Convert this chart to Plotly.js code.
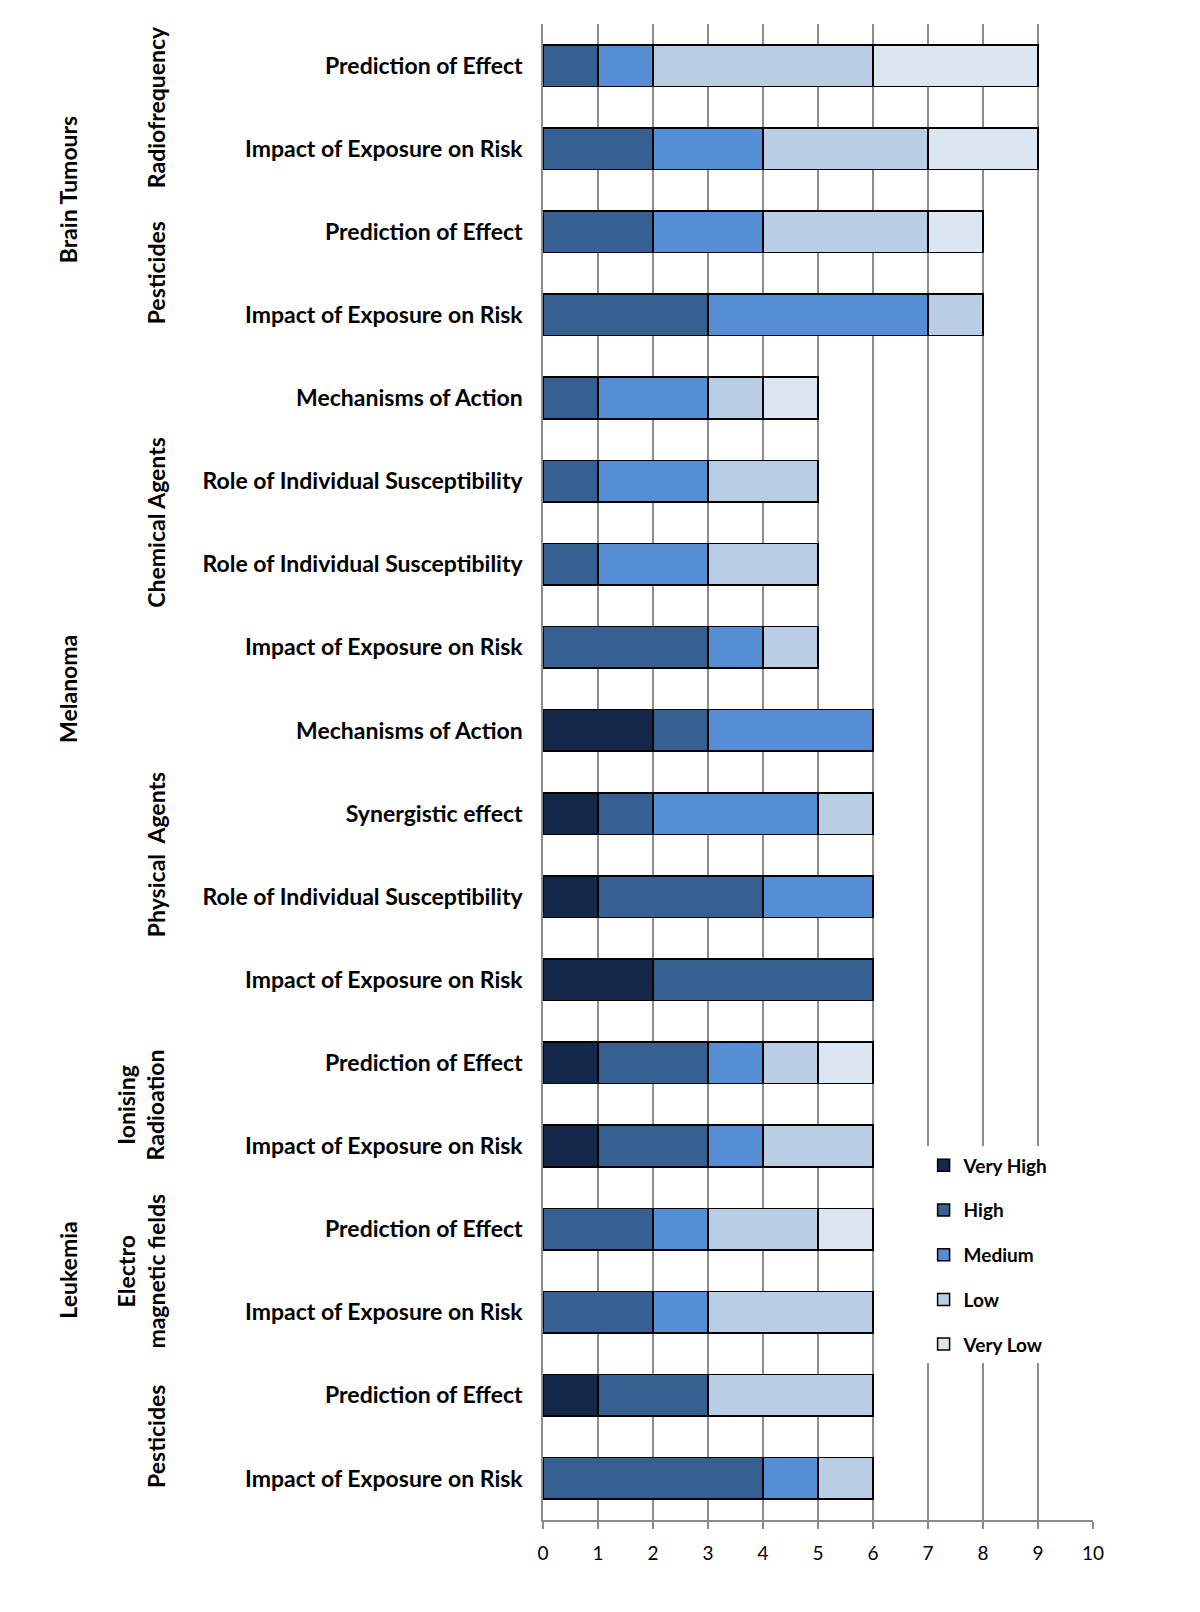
<!DOCTYPE html>
<html>
<head>
<meta charset="utf-8">
<script src="https://cdn.plot.ly/plotly-3.0.1.min.js"></script>
<style>
  body { margin: 0; background: #fff; }
  #chart { width: 1200px; height: 1612px; }
</style>
</head>
<body>
<div id="chart"></div>
<script>
// rows from top to bottom
var rowLabels = [
    "Prediction of Effect", "Impact of Exposure on Risk",
    "Prediction of Effect", "Impact of Exposure on Risk",
    "Mechanisms of Action", "Role of Individual Susceptibility",
    "Role of Individual Susceptibility", "Impact of Exposure on Risk",
    "Mechanisms of Action", "Synergistic effect",
    "Role of Individual Susceptibility", "Impact of Exposure on Risk",
    "Prediction of Effect", "Impact of Exposure on Risk",
    "Prediction of Effect", "Impact of Exposure on Risk",
    "Prediction of Effect", "Impact of Exposure on Risk"
];

var levelNames = ["Very High", "High", "Medium", "Low", "Very Low"];

var veryHigh = [0, 0, 0, 0, 0, 0, 0, 0, 2, 1, 1, 2, 1, 1, 0, 0, 1, 0];
var high     = [1, 2, 2, 3, 1, 1, 1, 3, 1, 1, 3, 4, 2, 2, 2, 2, 2, 4];
var medium   = [1, 2, 2, 4, 2, 2, 2, 1, 3, 3, 2, 0, 1, 1, 1, 1, 0, 1];
var low      = [4, 3, 3, 1, 1, 2, 2, 1, 0, 1, 0, 0, 1, 2, 2, 3, 3, 1];
var veryLow  = [3, 2, 1, 0, 1, 0, 0, 0, 0, 0, 0, 0, 1, 0, 1, 0, 0, 0];

var xTicks = [0, 1, 2, 3, 4, 5, 6, 7, 8, 9, 10];

// group labels: text and the row position they are centred on
var diseases = ["Brain Tumours", "Melanoma", "Leukemia"];
var diseasePos = [1.5, 7.5, 14.5];
var agents = ["Radiofrequency", "Pesticides", "Chemical Agents", "Physical  Agents",
              "Ionising<br>Radioation", "Electro<br>magnetic fields", "Pesticides"];
var agentPos = [0.5, 2.5, 5.5, 9.5, 12.5, 14.5, 16.5];

var colors = ["#14284a", "#376092", "#558ed5", "#b9cde5", "#dce6f2"];
var series = [veryHigh, high, medium, low, veryLow];

var rowIdx = rowLabels.map(function (d, i) { return i; });

var data = series.map(function (vals, k) {
    return {
        type: "bar",
        orientation: "h",
        name: "<b>" + levelNames[k] + "</b>",
        legendgroup: "g" + k,
        x: vals,
        y: rowIdx,
        width: 0.5,
        marker: { color: colors[k], line: { color: "#000000", width: 1.5 } },
        hoverinfo: "x+name"
    };
});

var font = "Lato, 'Open Sans', sans-serif";
var annotations = [];
diseases.forEach(function (t, i) {
    annotations.push({
        text: "<b>" + t + "</b>", xref: "paper", yref: "y",
        x: -0.8636, y: diseasePos[i], textangle: -90,
        xanchor: "center", yanchor: "middle", showarrow: false,
        font: { family: font, size: 23, color: "#000" }
    });
});
agents.forEach(function (t, i) {
    var twoLine = t.indexOf("<br>") >= 0;
    annotations.push({
        text: "<b>" + t + "</b>", xref: "paper", yref: "y",
        x: twoLine ? -0.731 : -0.7036, y: agentPos[i], textangle: -90,
        xanchor: "center", yanchor: "middle", showarrow: false,
        font: { family: font, size: 23, color: "#000" }
    });
});

var layout = {
    width: 1200,
    height: 1612,
    barmode: "stack",
    paper_bgcolor: "#fff",
    plot_bgcolor: "#fff",
    margin: { l: 543, r: 107, t: 24, b: 92 },
    showlegend: true,
    legend: {
        x: 0.692, y: 0.2497, xanchor: "left", yanchor: "top",
        bgcolor: "#ffffff",
        traceorder: "grouped",
        tracegroupgap: 17,
        font: { family: font, size: 19, color: "#000" }
    },
    xaxis: {
        range: [0, 10],
        tickvals: xTicks,
        showgrid: true,
        gridcolor: "#8c8c8c",
        gridwidth: 1.5,
        zeroline: false,
        showline: true,
        linecolor: "#8c8c8c",
        linewidth: 1.5,
        ticks: "outside",
        ticklen: 7,
        tickcolor: "#8c8c8c",
        tickwidth: 1.5,
        ticklabelstandoff: 8,
        tickfont: { family: font, size: 19, color: "#000" },
        fixedrange: true
    },
    yaxis: {
        range: [17.5, -0.5],
        tickvals: rowIdx,
        ticktext: rowLabels.map(function (s) { return "<b>" + s + "</b>"; }),
        showgrid: false,
        zeroline: false,
        showline: true,
        linecolor: "#8c8c8c",
        linewidth: 1.5,
        ticks: "",
        ticklabelstandoff: 14,
        tickfont: { family: font, size: 23, color: "#000" },
        fixedrange: true
    },
    annotations: annotations
};

Plotly.newPlot("chart", data, layout, { displayModeBar: false });
</script>
</body>
</html>
